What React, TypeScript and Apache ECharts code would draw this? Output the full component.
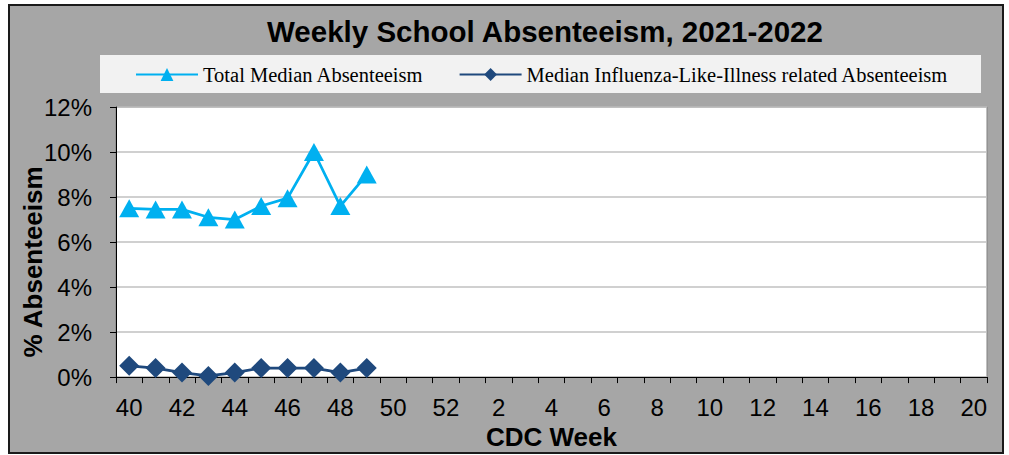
import React, { useEffect, useRef } from "react";
import * as echarts from "echarts";

const weeks = [
  "40", "41", "42", "43", "44", "45", "46", "47", "48", "49", "50", "51", "52",
  "1", "2", "3", "4", "5", "6", "7", "8", "9", "10", "11", "12", "13", "14", "15", "16", "17", "18", "19", "20",
];
const totalMedian = [7.5, 7.45, 7.45, 7.1, 7.0, 7.6, 7.95, 10.0, 7.6, 9.0];
const iliMedian = [0.5, 0.4, 0.2, 0.05, 0.2, 0.4, 0.4, 0.4, 0.2, 0.4];

export default function App() {
  const ref = useRef<HTMLDivElement>(null);
  useEffect(() => {
    if (!ref.current) return;
    const chart = echarts.init(ref.current, null, { renderer: "svg" });
    chart.setOption({
      animation: false,
      backgroundColor: "#ffffff",
      graphic: [
        {
          type: "rect",
          z: -10,
          shape: { x: 9, y: 5, width: 994, height: 448 },
          style: { fill: "#a6a6a6", stroke: "#1a1a1a", lineWidth: 2 },
        },
        {
          type: "rect",
          z: -9,
          shape: { x: 100, y: 55, width: 881, height: 38 },
          style: { fill: "#f2f2f2" },
        },
        {
          type: "text",
          x: 33,
          y: 262,
          rotation: Math.PI / 2,
          style: {
            text: "% Absenteeism",
            fontFamily: "Liberation Sans, Arial",
            fontWeight: "bold",
            fontSize: 26,
            fill: "#000",
            align: "center",
            verticalAlign: "middle",
          },
        },
      ],
      title: {
        text: "Weekly School Absenteeism, 2021-2022",
        left: 540,
        top: 11,
        textAlign: "center",
        textStyle: { fontFamily: "Liberation Sans, Arial", fontWeight: "bold", fontSize: 29.5, color: "#000" },
      },
      legend: {
        left: 135,
        top: 64,
        padding: 0,
        orient: "horizontal",
        itemGap: 35,
        itemWidth: 62,
        itemHeight: 16,
        textStyle: { fontFamily: "Liberation Serif, Times New Roman", fontSize: 20.5, color: "#000" },
        data: ["Total Median Absenteeism", "Median Influenza-Like-Illness related Absenteeism"],
      },
      grid: {
        left: 116,
        top: 107,
        right: 22,
        bottom: 73,
        show: true,
        backgroundColor: "#ffffff",
        borderColor: "#808080",
        borderWidth: 1,
        containLabel: false,
      },
      xAxis: {
        type: "category",
        data: weeks,
        boundaryGap: true,
        name: "CDC Week",
        nameLocation: "middle",
        nameGap: 44,
        nameTextStyle: { fontFamily: "Liberation Sans, Arial", fontWeight: "bold", fontSize: 26, color: "#000" },
        axisLine: { lineStyle: { color: "#000", width: 1 } },
        axisTick: { show: true, interval: 0, alignWithLabel: false, length: 6, lineStyle: { color: "#000" } },
        axisLabel: { interval: 1, margin: 18, fontFamily: "Liberation Sans, Arial", fontSize: 24, color: "#000" },
        splitLine: { show: false },
      },
      yAxis: {
        type: "value",
        min: 0,
        max: 12,
        interval: 2,
        axisLine: { show: true, lineStyle: { color: "#000", width: 1 } },
        axisTick: { show: true, length: 6, lineStyle: { color: "#000" } },
        axisLabel: {
          formatter: "{value}%",
          margin: 24,
          fontFamily: "Liberation Sans, Arial",
          fontSize: 24,
          color: "#000",
        },
        splitLine: { show: true, lineStyle: { color: "#c0c0c0", width: 1.5 } },
      },
      series: [
        {
          name: "Total Median Absenteeism",
          type: "line",
          data: totalMedian,
          symbol: "triangle",
          symbolSize: [20, 18],
          showAllSymbol: true,
          lineStyle: { color: "#00b0f0", width: 2.75 },
          itemStyle: { color: "#00b0f0" },
        },
        {
          name: "Median Influenza-Like-Illness related Absenteeism",
          type: "line",
          data: iliMedian,
          symbol: "diamond",
          symbolSize: [20, 20],
          showAllSymbol: true,
          lineStyle: { color: "#1f497d", width: 2.75 },
          itemStyle: { color: "#1f497d" },
        },
      ],
    });
    return () => chart.dispose();
  }, []);
  return <div ref={ref} style={{ position: "fixed", left: 0, top: 0, width: 1009, height: 455 }} />;
}
